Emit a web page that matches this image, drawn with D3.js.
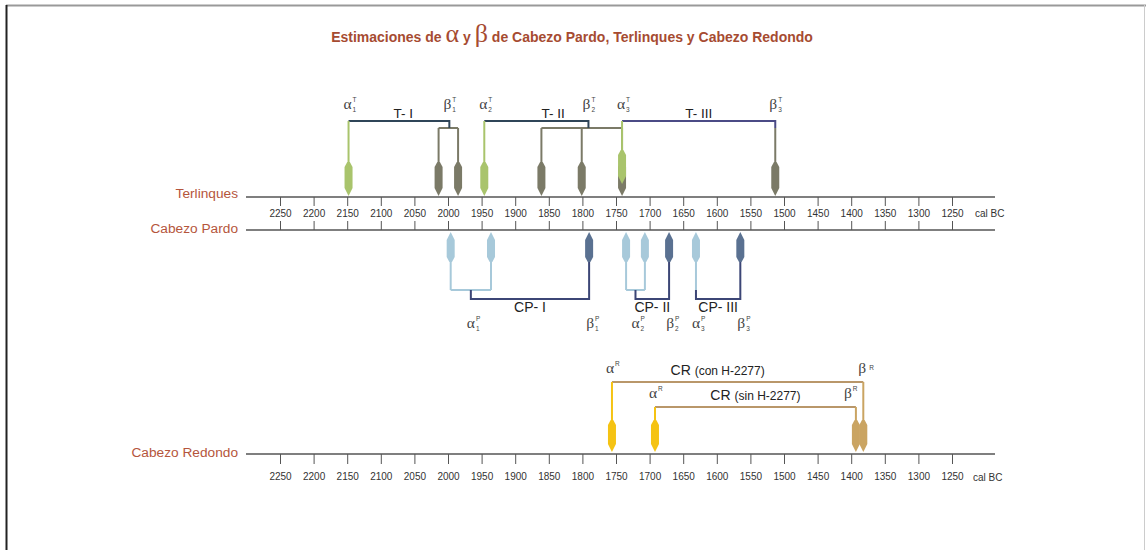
<!DOCTYPE html>
<html>
<head>
<meta charset="utf-8">
<script src="https://cdn.jsdelivr.net/npm/d3@7"></script>
<style>
  body { margin: 0; background: #fff; }
  svg { display: block; }
  text { font-family: "Liberation Sans", Arial, sans-serif; }
</style>
</head>
<body>
<svg id="chart" width="1146" height="550"></svg>
<script>
// ---- data -------------------------------------------------------------
const tickYears = [2250, 2200, 2150, 2100, 2050, 2000, 1950, 1900, 1850, 1800,
                   1750, 1700, 1650, 1600, 1550, 1500, 1450, 1400, 1350, 1300, 1250];
const rowNames = ["Terlinques", "Cabezo Pardo", "Cabezo Redondo"];

// Terlinques: alpha (start) and beta (end) estimates per phase, cal BC
const tPhases = ["T- I", "T- II", "T- III"];
const tAlpha = [[2148], [1946], [1741]];
const tBeta = [[2014, 1985], [1861, 1801, 1741], [1513]];
const tJoin = [1998, 1791, 1513];

// Cabezo Pardo
const cpPhases = ["CP- I", "CP- II", "CP- III"];
const cpAlpha = [[1996, 1936], [1735, 1707], [1631]];
const cpBeta = [[1790], [1671], [1565]];

// Cabezo Redondo (with / without sample H-2277)
const crPhases = ["CR (con H-2277)", "CR (sin H-2277)"];
const crAlpha = [1756, 1692];
const crBeta = [1382, 1393];

// ---- styles -----------------------------------------------------------
const C = {
  title: "#a64b31", row: "#b5553c", axis: "#7f7f7f", tick: "#555", txt: "#333",
  tAlpha: "#a9c46c", tBeta: "#7b7a67", tBracket: ["#2f4558", "#2f4558", "#4b4b86"],
  pAlpha: "#a7c9da", pBeta: "#5a7191", pBracket: "#3c4676",
  rAlpha: "#f5c313", rBeta: "#caa462", rLine: "#b9976a"
};
const greekFont = '"Liberation Serif", "DejaVu Serif", serif';

const svg = d3.select("#chart");
const x = d3.scaleLinear().domain([2250, 1250]).range([280, 952]);

// ---- frame ------------------------------------------------------------
svg.append("line").attr("x1", 6).attr("x2", 1146).attr("y1", 5.5).attr("y2", 5.5)
  .attr("stroke", "#999").attr("stroke-width", 2);
svg.append("line").attr("x1", 6.5).attr("x2", 6.5).attr("y1", 5).attr("y2", 550)
  .attr("stroke", "#222").attr("stroke-width", 2);
svg.append("line").attr("x1", 1144.5).attr("x2", 1144.5).attr("y1", 5).attr("y2", 550)
  .attr("stroke", "#ccc").attr("stroke-width", 1);

// ---- title ------------------------------------------------------------
const title = svg.append("text").attr("x", 572).attr("y", 42).attr("text-anchor", "middle")
  .attr("fill", C.title).style("font-size", "14px").style("font-weight", "bold");
title.append("tspan").text("Estimaciones de ");
title.append("tspan").text("α").style("font-family", greekFont).style("font-weight", "normal").style("font-size", "26px");
title.append("tspan").text(" y ");
title.append("tspan").text("β").style("font-family", greekFont).style("font-weight", "normal").style("font-size", "26px");
title.append("tspan").text(" de Cabezo Pardo, Terlinques y Cabezo Redondo");

// ---- axes -------------------------------------------------------------
const yT = 197, yP = 230, yR = 454;

function timeline(y) {
  svg.append("line").attr("x1", 246).attr("x2", 995).attr("y1", y).attr("y2", y)
    .attr("stroke", C.axis).attr("stroke-width", 2);
}
function styleAxis(g) {
  g.select(".domain").remove();
  g.selectAll(".tick line").attr("stroke", C.tick);
  g.selectAll(".tick text").attr("fill", C.txt).style("font-size", "10px")
    .style("font-family", '"Liberation Sans", Arial, sans-serif');
}

timeline(yT);
timeline(yP);
timeline(yR);

svg.append("g").attr("transform", `translate(0,${yT})`)
  .call(d3.axisBottom(x).tickValues(tickYears).tickSize(9).tickPadding(4).tickFormat(d3.format("d")))
  .call(styleAxis);
svg.append("g").attr("transform", `translate(0,${yP})`)
  .call(d3.axisTop(x).tickValues(tickYears).tickSize(9).tickFormat(""))
  .call(styleAxis);
svg.append("g").attr("transform", `translate(0,${yR})`)
  .call(d3.axisBottom(x).tickValues(tickYears).tickSize(10).tickPadding(9).tickFormat(d3.format("d")))
  .call(styleAxis);

[[yT + 20, 975], [yR + 27, 973]].forEach(([yy, xx]) => {
  svg.append("text").attr("x", xx).attr("y", yy).attr("fill", C.txt)
    .style("font-size", "10px").text("cal BC");
});

// row names
[[rowNames[0], 198], [rowNames[1], 233], [rowNames[2], 457]].forEach(([n, yy]) => {
  svg.append("text").attr("x", 238).attr("y", yy).attr("text-anchor", "end")
    .attr("fill", C.row).style("font-size", "13.7px").text(n);
});

// ---- helpers ----------------------------------------------------------
// downward marker: tip at (0,0), body above
function markDown(len) {
  return `M-1.3,${-len} L1.3,${-len} L4,${-len + 5} L4,-8 L0,0 L-4,-8 L-4,${-len + 5} Z`;
}
function markUp(len) {
  return `M-1.3,${len} L1.3,${len} L4,${len - 5} L4,8 L0,0 L-4,8 L-4,${len - 5} Z`;
}
function line(d, color, w) {
  svg.append("path").attr("d", d).attr("fill", "none").attr("stroke", color)
    .attr("stroke-width", w || 2);
}
// Greek letter centred on cx with small super/subscripts
function greek(cx, y, letter, sup, sub, opts) {
  const o = Object.assign({ supDx: 1, supDy: -7, subDy: 3, size: 15.5 }, opts || {});
  const g = svg.append("g");
  const t = g.append("text").attr("x", cx).attr("y", y).attr("text-anchor", "middle")
    .attr("fill", "#444").style("font-family", greekFont).style("font-size", o.size + "px").text(letter);
  const w = t.node().getComputedTextLength();
  const sx = cx + w / 2 + o.supDx;
  if (sup) g.append("text").attr("x", sx).attr("y", y + o.supDy).attr("fill", "#444")
    .style("font-size", "6.5px").text(sup);
  if (sub) g.append("text").attr("x", sx).attr("y", y + o.subDy).attr("fill", "#444")
    .style("font-size", "6.5px").text(sub);
}
function phaseLabel(cx, y, text, size) {
  svg.append("text").attr("x", cx).attr("y", y).attr("text-anchor", "middle")
    .attr("fill", "#222").style("font-size", (size || 13.5) + "px").text(text);
}

// ---- Terlinques -------------------------------------------------------
const tLen = 34, tTop = 121, tBar = 128, tRaise = 12;
tPhases.forEach((name, i) => {
  const ax = tAlpha[i].map(x), bx = tBeta[i].map(x), jx = x(tJoin[i]);
  // beta group bar and stems
  line(`M${d3.min(bx)},${tBar} H${d3.max(bx)}`, C.tBeta);
  bx.forEach(b => line(`M${b},${tBar} V${yT - 1 - tLen}`, C.tBeta));
  // phase bracket
  line(`M${ax[0]},${tTop} H${jx} V${tBar}`, C.tBracket[i]);
});
tPhases.forEach((name, i) => {
  tBeta[i].forEach(b => svg.append("path").attr("d", markDown(tLen))
    .attr("transform", `translate(${x(b)},${yT - 1})`).attr("fill", C.tBeta));
});
tPhases.forEach((name, i) => {
  tAlpha[i].forEach(a => {
    const shared = tBeta.some(arr => arr.includes(a));
    const yTip = yT - 1 - (shared ? tRaise : 0);
    line(`M${x(a)},${tTop} V${yTip - tLen}`, C.tAlpha);
    svg.append("path").attr("d", markDown(tLen))
      .attr("transform", `translate(${x(a)},${yTip})`).attr("fill", C.tAlpha);
  });
  const ax = x(tAlpha[i][0]), jx = x(tJoin[i]), bmax = x(d3.min(tBeta[i]));
  greek(ax - 1, 109, "α", "T", String(i + 1));
  greek(jx - 2, 109, "β", "T", String(i + 1));
  phaseLabel((ax + bmax) / 2, 118, name, 13.5);
});

// ---- Cabezo Pardo -----------------------------------------------------
const pLen = 30, pBar = 290, pLow = 299, pTip = yP + 2;
cpPhases.forEach((name, i) => {
  const ax = cpAlpha[i].map(x), bx = x(cpBeta[i][0]);
  const jx = d3.mean(ax);
  line(`M${d3.min(ax)},${pBar} H${d3.max(ax)}`, C.pAlpha);
  ax.forEach(a => line(`M${a},${pTip + pLen} V${pBar}`, C.pAlpha));
  line(`M${jx},${pBar} V${pLow} H${bx} V${pTip + pLen}`, C.pBracket);
  ax.forEach(a => svg.append("path").attr("d", markUp(pLen))
    .attr("transform", `translate(${a},${pTip})`).attr("fill", C.pAlpha));
  svg.append("path").attr("d", markUp(pLen))
    .attr("transform", `translate(${bx},${pTip})`).attr("fill", C.pBeta);
  greek(jx, 328, "α", "P", String(i + 1));
  greek(bx + 1, 328, "β", "P", String(i + 1));
  phaseLabel((jx + bx) / 2, 312, name, 14);
});

// ---- Cabezo Redondo ---------------------------------------------------
const rLen = 32, rTip = yR - 2, rLines = [382, 407];
crPhases.forEach((name, i) => {
  const ax = x(crAlpha[i]), bx = x(crBeta[i]), yy = rLines[i];
  line(`M${ax},${yy} H${bx}`, C.rLine);
  line(`M${ax},${yy} V${rTip - rLen}`, C.rAlpha);
  line(`M${bx},${yy} V${rTip - rLen}`, C.rBeta);
});
crPhases.forEach((name, i) => {
  const ax = x(crAlpha[i]), bx = x(crBeta[i]), yy = rLines[i];
  svg.append("path").attr("d", markDown(rLen))
    .attr("transform", `translate(${ax},${rTip})`).attr("fill", C.rAlpha);
  svg.append("path").attr("d", markDown(rLen))
    .attr("transform", `translate(${bx},${rTip})`).attr("fill", C.rBeta);
  greek(ax - 2, yy - 9, "α", "R", null);
  greek(bx - (i === 0 ? 1 : 8), yy - 9, "β", "R", null, { supDx: i === 0 ? 3 : 1, supDy: i === 0 ? -3 : -7 });
  const parts = name.match(/^(\S+)\s(.*)$/);
  const lab = svg.append("text").attr("x", (ax + bx) / 2 + (i === 0 ? -20 : 0)).attr("y", yy - 7)
    .attr("text-anchor", "middle").attr("fill", "#222").style("font-size", "14px");
  lab.append("tspan").text(parts[1] + " ");
  lab.append("tspan").text(parts[2]).style("font-size", "12px");
});
</script>
</body>
</html>
